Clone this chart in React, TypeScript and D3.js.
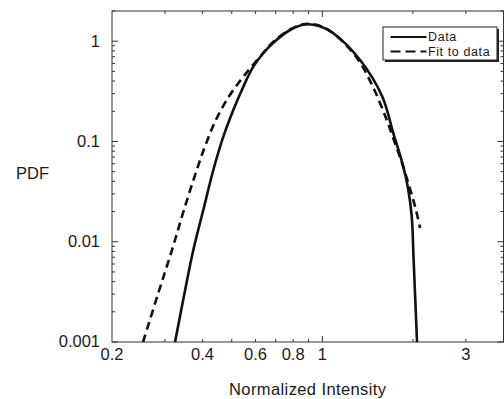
import React from "react";
import * as d3 from "d3";

const dataX = [0.324, 0.3469, 0.3726, 0.4022, 0.4343, 0.4688, 0.506, 0.5463, 0.5897, 0.6353, 0.686, 0.781, 0.876, 0.975, 1.085, 1.335, 1.579, 1.722, 1.858, 1.931, 1.982, 2.011, 2.064];
const dataY = [0.001, 0.002877, 0.00827, 0.02073, 0.05193, 0.1116, 0.206, 0.3517, 0.5567, 0.754, 0.959, 1.293, 1.467, 1.418, 1.207, 0.649, 0.2841, 0.1207, 0.05603, 0.03281, 0.01777, 0.006574, 0.001];

const fitX = [0.2536, 0.2844, 0.3165, 0.3444, 0.3748, 0.4044, 0.4397, 0.4859, 0.5327, 0.5751, 0.6257, 0.686, 0.781, 0.876, 0.975, 1.085, 1.304, 1.474, 1.637, 1.744, 1.84, 1.931, 2.006, 2.059, 2.112];
const fitY = [0.001, 0.003012, 0.00827, 0.01935, 0.04322, 0.0841, 0.1564, 0.2714, 0.401, 0.534, 0.72, 0.982, 1.308, 1.484, 1.434, 1.207, 0.68, 0.349, 0.1637, 0.0959, 0.061, 0.03826, 0.02609, 0.01935, 0.01371];

const xTickLabels = [0.2, 0.4, 0.6, 0.8, 1, 3];
const xMinorTicks = [0.3, 0.4, 0.5, 0.6, 0.7, 0.8, 0.9, 2, 3];
const xMajorTicks = [1];
const yMajorTicks = [0.001, 0.01, 0.1, 1];
const yTickLabels = ["0.001", "0.01", "0.1", "1"];
const yMinorTicks: number[] = [];
[0.001, 0.01, 0.1, 1].forEach((d) => {
  for (let k = 2; k <= 9; k++) if (d * k <= 2) yMinorTicks.push(d * k);
});

const W = 504, H = 399;
const L = 112, R = 503.5, T = 11, B = 342;

export default function App() {
  const x = d3.scaleLog().domain([0.2, 4]).range([L, R]);
  const y = d3.scaleLog().domain([0.001, 2]).range([B, T]);
  const line = d3
    .line<[number, number]>()
    .x((d) => x(d[0]))
    .y((d) => y(d[1]))
    .curve(d3.curveCatmullRom.alpha(0.5));
  const dataPts = dataX.map((v, i) => [v, dataY[i]] as [number, number]);
  const fitPts = fitX.map((v, i) => [v, fitY[i]] as [number, number]);
  const font = "'Liberation Sans', Arial, Helvetica, sans-serif";
  const axisColor = "#333";
  const textColor = "#1a1a1a";
  return (
    <svg width={W} height={H} style={{ position: "absolute", left: 0, top: 0, background: "#fff" }}>
      <rect x={0} y={0} width={W} height={H} fill="#fff" />
      {/* ticks */}
      <g stroke={axisColor} strokeWidth={1}>
        {xMinorTicks.map((t) => (
          <g key={"xm" + t}>
            <line x1={x(t)} x2={x(t)} y1={B} y2={B - 3} />
            <line x1={x(t)} x2={x(t)} y1={T} y2={T + 3} />
          </g>
        ))}
        {xMajorTicks.map((t) => (
          <g key={"xM" + t}>
            <line x1={x(t)} x2={x(t)} y1={B} y2={B - 6} />
            <line x1={x(t)} x2={x(t)} y1={T} y2={T + 6} />
          </g>
        ))}
        {yMinorTicks.map((t) => (
          <g key={"ym" + t}>
            <line x1={L} x2={L + 3} y1={y(t)} y2={y(t)} />
            <line x1={R} x2={R - 3} y1={y(t)} y2={y(t)} />
          </g>
        ))}
        {yMajorTicks.map((t) => (
          <g key={"yM" + t}>
            <line x1={L} x2={L + 6} y1={y(t)} y2={y(t)} />
            <line x1={R} x2={R - 6} y1={y(t)} y2={y(t)} />
          </g>
        ))}
      </g>
      <rect x={L} y={T} width={R - L} height={B - T} fill="none" stroke={axisColor} strokeWidth={1} />
      {/* curves */}
      <path d={line(dataPts) || ""} fill="none" stroke="#111" strokeWidth={2.6} />
      <path d={line(fitPts) || ""} fill="none" stroke="#111" strokeWidth={2.6} strokeDasharray="8,5" />
      {/* tick labels */}
      <g fontFamily={font} fontSize={16.5} fill={textColor}>
        {xTickLabels.map((t) => (
          <text key={"xl" + t} x={x(t)} y={360} textAnchor="middle">
            {String(t)}
          </text>
        ))}
        {yMajorTicks.map((t, i) => (
          <text key={"yl" + t} x={100} y={y(t)} dy="0.33em" textAnchor="end">
            {yTickLabels[i]}
          </text>
        ))}
        <text x={16} y={179}>PDF</text>
        <text x={(L + R) / 2} y={395} textAnchor="middle" letterSpacing={0.4}>Normalized Intensity</text>
      </g>
      {/* legend */}
      <g>
        <rect x={385} y={29} width={114} height={33} fill="#222" />
        <rect x={383} y={27} width={114} height={33} fill="#fff" stroke="#222" strokeWidth={1} />
        <line x1={390.5} x2={426.5} y1={37} y2={37} stroke="#111" strokeWidth={2} />
        <line x1={390.5} x2={426.5} y1={51.5} y2={51.5} stroke="#111" strokeWidth={2} strokeDasharray="10,5" />
        <text x={428} y={41} fontFamily={font} fontSize={12.5} letterSpacing={0.6} fill={textColor}>Data</text>
        <text x={428} y={55.5} fontFamily={font} fontSize={12.5} letterSpacing={0.6} fill={textColor}>Fit to data</text>
      </g>
    </svg>
  );
}
